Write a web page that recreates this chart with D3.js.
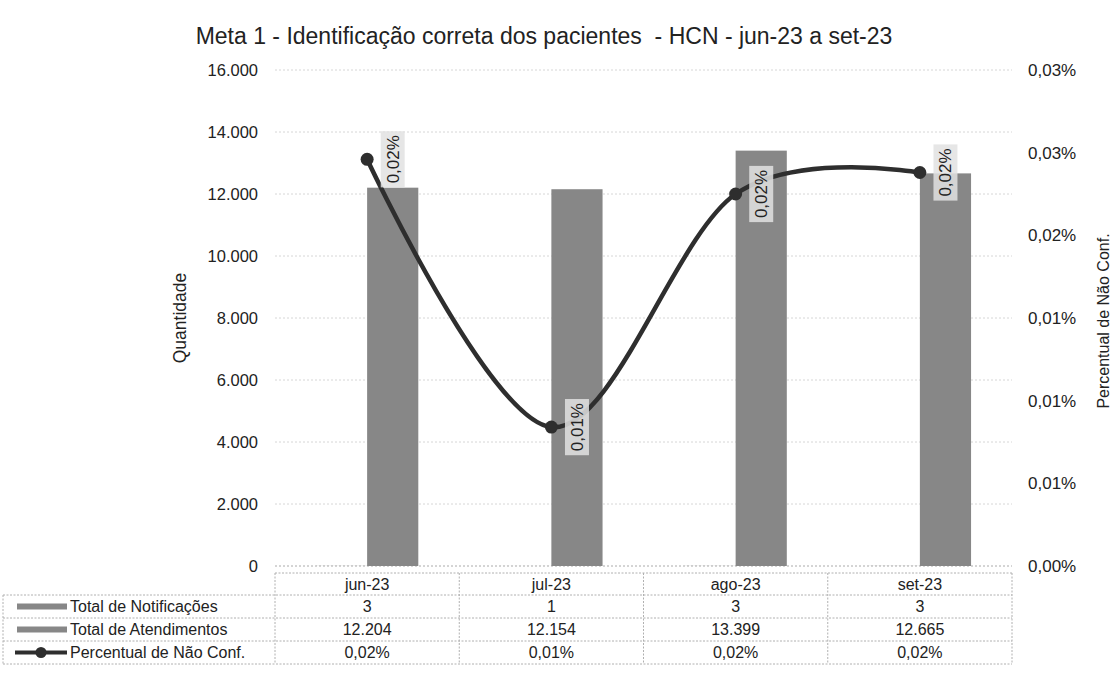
<!DOCTYPE html>
<html><head><meta charset="utf-8">
<script src="https://cdn.jsdelivr.net/npm/d3@7"></script>
<style>
html,body{margin:0;padding:0;background:#fff;}
text{font-family:"Liberation Sans",Arial,sans-serif;fill:#222;}
</style></head>
<body><svg id="c" width="1114" height="677"></svg>
<script>
const categories = ["jun-23","jul-23","ago-23","set-23"];
const notificacoes = [3,1,3,3];
const atendimentos = [12204,12154,13399,12665];
const percentual = [0.0246,0.0084,0.0225,0.0238]; // in %
const notifLabels = ["3","1","3","3"];
const atendLabels = ["12.204","12.154","13.399","12.665"];
const percLabels = ["0,02%","0,01%","0,02%","0,02%"];
const leftTicks = [0,2000,4000,6000,8000,10000,12000,14000,16000];
const rightTicks = [0,0.005,0.01,0.015,0.02,0.025,0.03];
const seriesNames = ["Total de Notificações","Total de Atendimentos","Percentual de Não Conf."];
const title = "Meta 1 - Identificação correta dos pacientes  - HCN - jun-23 a set-23";

const svg = d3.select("#c");
const L = 275, R = 1012, T = 70, B = 566;
const barColor = "#878787", lineColor = "#2e2e2e";
const FF = "Liberation Sans, Arial, sans-serif";

const x = d3.scaleBand().domain(categories).range([L,R]).paddingInner(0).paddingOuter(0);
const x1 = d3.scaleBand().domain(["n","a"]).range([0,x.bandwidth()]).paddingInner(0).paddingOuter(0.8);
const y = d3.scaleLinear().domain([0,16000]).range([B,T]);
const y2 = d3.scaleLinear().domain([0,0.03]).range([B,T]);

// title
svg.append("text").attr("x",544).attr("y",44).attr("text-anchor","middle")
  .style("font-size","23px").style("white-space","pre").attr("fill","#222").text(title);

// gridlines
svg.append("g").selectAll("line").data(leftTicks).join("line")
  .attr("x1",L).attr("x2",R).attr("y1",d=>y(d)).attr("y2",d=>y(d))
  .attr("stroke",d=>d===0?"#aaa":"#d6d6d6").attr("stroke-width",1).attr("stroke-dasharray","2,2");

// left axis
const ya = d3.axisLeft(y).tickValues(leftTicks).tickSize(0).tickPadding(0)
  .tickFormat(d=>d3.format(",")(d).replace(/,/g,"."));
const gl = svg.append("g").attr("transform",`translate(${258},0)`).call(ya);
gl.select(".domain").remove();
gl.selectAll("text").style("font-size","16.5px").style("font-family",FF).attr("fill","#333");

// right axis
const yb = d3.axisRight(y2).tickValues(rightTicks).tickSize(0).tickPadding(0)
  .tickFormat(d=>d3.format(".2f")(d).replace(".",",")+"%");
const gr = svg.append("g").attr("transform",`translate(${1028},0)`).call(yb);
gr.select(".domain").remove();
gr.selectAll("text").style("font-size","17px").style("font-family",FF).attr("fill","#333");

// axis titles
svg.append("text").attr("transform","translate(186,318) rotate(-90)").attr("text-anchor","middle")
  .style("font-size","17.5px").attr("fill","#333").text("Quantidade");
svg.append("text").attr("transform","translate(1109,321) rotate(-90)").attr("text-anchor","middle")
  .style("font-size","16px").attr("fill","#444").text("Percentual de Não Conf.");

// bars
const gb = svg.append("g");
gb.selectAll("rect.n").data(categories).join("rect").attr("class","n")
  .attr("x",(d)=>x(d)+x1("n")).attr("width",x1.bandwidth())
  .attr("y",(d,i)=>y(notificacoes[i])).attr("height",(d,i)=>B-y(notificacoes[i])).attr("fill",barColor);
gb.selectAll("rect.a").data(categories).join("rect").attr("class","a")
  .attr("x",(d)=>x(d)+x1("a")).attr("width",x1.bandwidth())
  .attr("y",(d,i)=>y(atendimentos[i])).attr("height",(d,i)=>B-y(atendimentos[i])).attr("fill",barColor);

// line
const cx = d=>x(d)+x.bandwidth()/2;
const line = d3.line().x((d,i)=>cx(categories[i])).y(d=>y2(d)).curve(d3.curveCardinal.tension(0));
svg.append("path").datum(percentual).attr("d",line).attr("fill","none")
  .attr("stroke",lineColor).attr("stroke-width",4.5);
svg.append("g").selectAll("circle").data(percentual).join("circle")
  .attr("cx",(d,i)=>cx(categories[i])).attr("cy",d=>y2(d)).attr("r",6.5).attr("fill",lineColor);

// data labels (rotated)
const gLab = svg.append("g");
percentual.forEach((v,i)=>{
  const lx = x(categories[i])+x1("a")+x1.bandwidth()/2, ly = y2(v);
  const g = gLab.append("g").attr("transform",`translate(${lx},${ly}) rotate(-90)`);
  const t = g.append("text").attr("text-anchor","middle").attr("dy","0.35em")
    .style("font-size","17px").attr("fill","#333").text(percLabels[i]);
  const w = t.node().getComputedTextLength();
  g.insert("rect","text").attr("x",-w/2-4).attr("y",-12).attr("width",w+8).attr("height",24)
    .attr("fill","#e2e2e2").attr("opacity",0.85);
});

// data table
const rowTop = 573, hdrH = 22, rowH = 23;
const tb = svg.append("g");
const bstyle = s=>s.attr("stroke","#b0b0b0").attr("stroke-width",1).attr("stroke-dasharray","2,1.5").attr("fill","none");
tb.append("line").attr("x1",L).attr("x2",R).attr("y1",rowTop).attr("y2",rowTop).call(bstyle);
const rowsY = [rowTop+hdrH, rowTop+hdrH+rowH, rowTop+hdrH+2*rowH, rowTop+hdrH+3*rowH];
rowsY.forEach(yy=>tb.append("line").attr("x1",3).attr("x2",R).attr("y1",yy).attr("y2",yy).call(bstyle));
const cols = categories.map(c=>x(c)).concat([R]);
cols.forEach(xx=>tb.append("line").attr("x1",xx).attr("x2",xx).attr("y1",rowTop).attr("y2",rowsY[3]).call(bstyle));
tb.append("line").attr("x1",3).attr("x2",3).attr("y1",rowsY[0]).attr("y2",rowsY[3]).call(bstyle);

tb.selectAll("text.h").data(categories).join("text").attr("class","h")
  .attr("x",d=>cx(d)).attr("y",rowTop+hdrH/2).attr("dy","0.35em").attr("text-anchor","middle")
  .style("font-size","16px").attr("fill","#222").text(d=>d);
const rowData = [notifLabels, atendLabels, percLabels];
rowData.forEach((arr,r)=>{
  tb.selectAll(`text.r${r}`).data(arr).join("text").attr("class",`r${r}`)
    .attr("x",(d,i)=>cx(categories[i])).attr("y",rowsY[r]+rowH/2).attr("dy","0.35em").attr("text-anchor","middle")
    .style("font-size","16px").attr("fill","#222").text(d=>d);
  const ky = rowsY[r]+rowH/2;
  if(r<2){
    tb.append("rect").attr("x",17).attr("y",ky-3).attr("width",50).attr("height",6).attr("fill",barColor);
  } else {
    tb.append("line").attr("x1",15).attr("x2",67).attr("y1",ky).attr("y2",ky).attr("stroke",lineColor).attr("stroke-width",4);
    tb.append("circle").attr("cx",41).attr("cy",ky).attr("r",5.5).attr("fill",lineColor);
  }
  tb.append("text").attr("x",70).attr("y",ky).attr("dy","0.35em").style("font-size","16px").attr("fill","#222").text(seriesNames[r]);
});
</script></body></html>
